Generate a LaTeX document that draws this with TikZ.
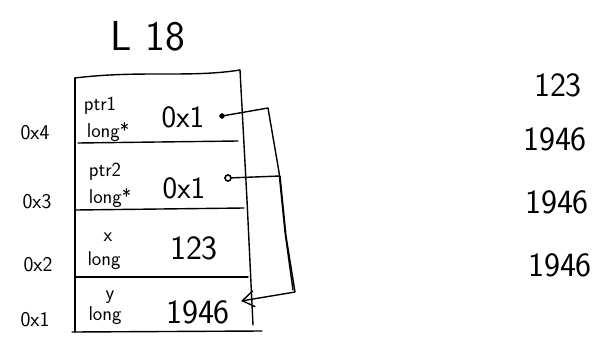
\documentclass[tikz,border=0pt]{standalone}
\usepackage{tikz}
\usetikzlibrary{arrows.meta, positioning}

\begin{document}
\begin{tikzpicture}[>={Straight Barb[length=12pt, width=16pt]}, font=\sffamily, x=1pt, y=-1pt]
    \tikzset{
        hand/.style={line width=1.4pt, line cap=round, line join=round},
        bigval/.style={font=\sffamily\fontsize{34}{36}\selectfont, inner sep=0pt},
        ptrval/.style={font=\sffamily\fontsize{31}{33}\selectfont, inner sep=0pt},
        tag/.style={font=\sffamily\fontsize{20}{21}\selectfont, inner sep=0pt},
        addr/.style={font=\sffamily\fontsize{21}{22}\selectfont, inner sep=0pt},
        dot/.style={circle, fill=black, draw=black, inner sep=0pt, minimum size=5pt},
        ring/.style={circle, fill=white, draw=black, line width=1.6pt, inner sep=0pt, minimum size=6pt},
    }
    \useasboundingbox (0,0) rectangle (605,340);
    % 1. Title
    \node[font=\sffamily\fontsize{42}{44}\selectfont, inner sep=0pt] (title) at (148,36) {L 18};
    % 2. Stack frame (box and row lines)
    \draw[hand] (75,78) .. controls (140,70) and (190,78) .. (240,70);
    \draw[hand] (75,78) -- (75,332);
    \draw[hand] (240,70) -- (247,200) -- (253,325);
    \draw[hand] (78,143) -- (238,141);
    \draw[hand] (76,210) -- (244,208);
    \draw[hand] (76,277) -- (248,277);
    \draw[hand] (72,332) -- (262,331);
    % 3. Variables: name / type / value
    \node[tag] (nameA) at (100,106) {ptr1};
    \node[tag] (typeA) at (108,132) {long*};
    \node[ptrval] (valA) at (183,117) {0x1};
    \node[tag] (nameB) at (105,172) {ptr2};
    \node[tag] (typeB) at (110,198) {long*};
    \node[ptrval] (valB) at (184,188) {0x1};
    \node[tag] (nameC) at (108,237) {x};
    \node[tag] (typeC) at (104,261) {long};
    \node[bigval] (valC) at (194,248) {123};
    \node[tag] (nameD) at (110,297) {y};
    \node[tag] (typeD) at (105,316) {long};
    \node[bigval] (valD) at (198,312) {1946};
    % 4. Addresses
    \node[addr] (addrD) at (35,133) {0x4};
    \node[addr] (addrC) at (37,202) {0x3};
    \node[addr] (addrB) at (38,265) {0x2};
    \node[addr] (addrA) at (35,320) {0x1};
    % 5. Pointers to y
    \node[dot] (dotA) at (222,116) {};
    \node[ring] (dotB) at (228,178) {};
    \coordinate (yend) at (241,301);
    \draw[hand] (dotA) -- (268,108) -- (279,172) -- (285,232) -- (293,290);
    \draw[hand, ->] (dotB) -- (280,176) -- (286,236) -- (295,292) -- (yend);
    % 6. Values over time
    \node[bigval] (histA) at (558,85) {123};
    \node[bigval] (histB) at (555,139) {1946};
    \node[bigval] (histC) at (557,202) {1946};
    \node[bigval] (histD) at (560,265) {1946};
\end{tikzpicture}
\end{document}
